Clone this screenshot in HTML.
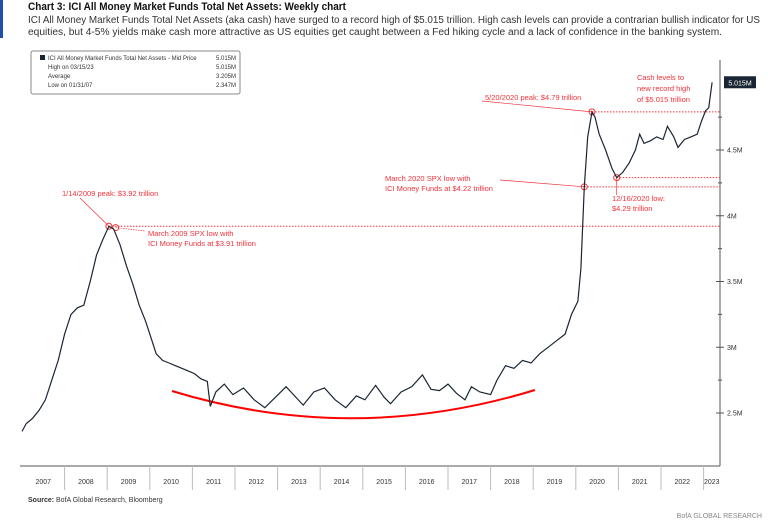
<!DOCTYPE html>
<html><head><meta charset="utf-8"><style>
body{margin:0;background:#fff;width:768px;height:528px;overflow:hidden;font-family:"Liberation Sans",sans-serif}
svg{position:absolute;left:0;top:0}
</style></head><body>
<svg width="768" height="528">
<rect x="0" y="0" width="3" height="38" fill="#1f4fa8"/>
<text x="28" y="10" font-size="11" font-weight="bold" fill="#111" textLength="318" lengthAdjust="spacingAndGlyphs">Chart 3: ICI All Money Market Funds Total Net Assets: Weekly chart</text>
<text x="28" y="23" font-size="10" fill="#333" textLength="732" lengthAdjust="spacingAndGlyphs">ICI All Money Market Funds Total Net Assets (aka cash) have surged to a record high of $5.015 trillion. High cash levels can provide a contrarian bullish indicator for US</text>
<text x="28" y="35" font-size="10" fill="#333" textLength="694" lengthAdjust="spacingAndGlyphs">equities, but 4-5% yields make cash more attractive as US equities get caught between a Fed hiking cycle and a lack of confidence in the banking system.</text>
<g font-size="6" fill="#333">
<rect x="31" y="51" width="209" height="43" fill="#fff" stroke="#888" rx="2"/>
<rect x="40" y="55" width="5" height="5" fill="#1a2533"/>
<text x="48" y="60">ICI All Money Market Funds Total Net Assets - Mid Price</text><text x="236" y="60" text-anchor="end">5.015M</text>
<text x="48" y="69">High on 03/15/23</text><text x="236" y="69" text-anchor="end">5.015M</text>
<text x="48" y="78">Average</text><text x="236" y="78" text-anchor="end">3.205M</text>
<text x="48" y="87">Low on 01/31/07</text><text x="236" y="87" text-anchor="end">2.347M</text>
</g>
<g id="axes"></g>
<g id="annot"></g>
<path id="series" fill="none" stroke="#1a2533" stroke-width="1.2"/>
<text x="28" y="502" font-size="7" fill="#333"><tspan font-weight="bold">Source:</tspan> BofA Global Research, Bloomberg</text>
<text x="762" y="518" font-size="7" fill="#888" text-anchor="end">BofA GLOBAL RESEARCH</text>
</svg>
<script>
const years=["2007","2008","2009","2010","2011","2012","2013","2014","2015","2016","2017","2018","2019","2020","2021","2022","2023"];
const yTicks=[2.5,3,3.5,4,4.5];
const yTickLabels=["2.5M","3M","3.5M","4M","4.5M"];
const dates=[2007.0,2007.1,2007.25,2007.4,2007.55,2007.7,2007.85,2008.0,2008.15,2008.3,2008.45,2008.6,2008.75,2008.9,2009.04,2009.15,2009.3,2009.45,2009.6,2009.75,2009.9,2010.0,2010.15,2010.3,2010.45,2010.6,2010.75,2010.9,2011.05,2011.2,2011.35,2011.42,2011.55,2011.75,2011.95,2012.2,2012.45,2012.7,2012.95,2013.2,2013.4,2013.6,2013.85,2014.1,2014.35,2014.6,2014.85,2015.05,2015.3,2015.5,2015.65,2015.9,2016.15,2016.4,2016.6,2016.8,2017.0,2017.2,2017.4,2017.55,2017.75,2018.0,2018.15,2018.35,2018.55,2018.75,2018.95,2019.15,2019.35,2019.55,2019.75,2019.9,2020.05,2020.12,2020.2,2020.28,2020.38,2020.45,2020.55,2020.7,2020.85,2020.96,2021.1,2021.25,2021.4,2021.5,2021.6,2021.75,2021.9,2022.05,2022.15,2022.3,2022.4,2022.55,2022.7,2022.85,2022.95,2023.05,2023.12,2023.2];
const values=[2.36,2.42,2.46,2.52,2.6,2.75,2.9,3.1,3.25,3.3,3.32,3.5,3.7,3.82,3.92,3.9,3.78,3.62,3.48,3.32,3.2,3.1,2.95,2.9,2.88,2.86,2.84,2.82,2.8,2.76,2.74,2.55,2.66,2.72,2.64,2.69,2.6,2.54,2.62,2.7,2.63,2.56,2.66,2.69,2.6,2.54,2.63,2.6,2.71,2.62,2.57,2.66,2.7,2.79,2.68,2.67,2.72,2.65,2.6,2.7,2.66,2.64,2.75,2.86,2.84,2.9,2.88,2.95,3.0,3.05,3.1,3.25,3.35,3.6,4.22,4.6,4.79,4.75,4.62,4.5,4.36,4.29,4.33,4.4,4.5,4.62,4.55,4.57,4.6,4.58,4.68,4.6,4.52,4.58,4.6,4.62,4.72,4.8,4.82,5.015];
const x=d=>22+(d-2007)*42.6, y=v=>413-(v-2.5)*131.5;
const ns="http://www.w3.org/2000/svg";
function mk(p,t,a){const e=document.createElementNS(ns,t);for(const k in a)e.setAttribute(k,a[k]);p.appendChild(e);return e;}
const ax=document.getElementById('axes');
let l=mk(ax,'line',{x1:20,y1:466,x2:720,y2:466,stroke:'#555'});


l=mk(ax,'line',{x1:720,y1:60,x2:720,y2:466,stroke:'#555'});


years.forEach((yr,i)=>{const x0=x(2007+i);
 if(i>0){mk(ax,'line',{x1:x0,y1:466,x2:x0,y2:490,stroke:'#bbb'});}
 const cx=i==16?(x0+720)/2:x0+21.3;
 const t=mk(ax,'text',{x:cx,y:484,'font-size':7,fill:'#333','text-anchor':'middle'});t.textContent=yr;
 
 
});
yTicks.forEach((v,i)=>{mk(ax,'line',{x1:716,y1:y(v),x2:724,y2:y(v),stroke:'#555'});
 const t=mk(ax,'text',{x:727,y:y(v)+2.5,'font-size':7,fill:'#333'});t.textContent=yTickLabels[i];
 
 });
[2.75,3.25,3.75,4.25,4.75].forEach(v=>mk(ax,'line',{x1:718,y1:y(v),x2:722,y2:y(v),stroke:'#555'}));
const last=values[values.length-1];
const lb=mk(ax,'rect',{x:724,y:y(last)-6,width:32,height:12,fill:'#1a2533'});


const lt=mk(ax,'text',{x:740,y:y(last)+3,'font-size':7,fill:'#fff','text-anchor':'middle'});lt.textContent=last.toFixed(3)+'M';
let d='';dates.forEach((dt,i)=>{d+=(i?'L':'M')+x(dt).toFixed(1)+' '+y(values[i]).toFixed(1);});
document.getElementById('series').setAttribute('d',d);
const an=document.getElementById('annot');const R='#f0333a';
function hl(v,x1){mk(an,'line',{x1:x1,y1:y(v),x2:720,y2:y(v),stroke:R,'stroke-dasharray':'1.5 1.5','stroke-width':1});}
hl(4.79,x(2020.38));hl(4.29,x(2020.96));hl(4.22,x(2020.2));hl(3.92,x(2009.04));
[[2009.04,3.92],[2009.2,3.91],[2020.38,4.79],[2020.2,4.22],[2020.96,4.29]].forEach(p=>mk(an,'circle',{cx:x(p[0]),cy:y(p[1]),r:3,fill:'none',stroke:R}));
mk(an,'line',{x1:80,y1:198,x2:x(2009.04),y2:y(3.92),stroke:R,'stroke-width':0.7});
mk(an,'line',{x1:x(2009.2),y1:y(3.91),x2:145,y2:231,stroke:R,'stroke-width':0.7,'stroke-dasharray':'1.5 1'});
mk(an,'line',{x1:482,y1:101,x2:x(2020.38),y2:y(4.79),stroke:R,'stroke-width':0.7});
mk(an,'line',{x1:500,y1:180,x2:x(2020.2),y2:y(4.22),stroke:R,'stroke-width':0.7});
mk(an,'line',{x1:x(2020.96),y1:y(4.29),x2:x(2020.96),y2:195,stroke:R,'stroke-width':0.7});
function tx(s,xx,yy,nm){const t=mk(an,'text',{x:xx,y:yy,'font-size':7.5,fill:R});t.textContent=s;
 
 }
tx('1/14/2009 peak: $3.92 trillion',62,196,'annotation-2009-peak');
tx('March 2009 SPX low with',148,236,'annotation-2009-low');tx('ICI Money Funds at $3.91 trillion',148,246,'annotation-2009-low-2');
tx('5/20/2020 peak: $4.79 trillion',485,100,'annotation-2020-peak');
tx('March 2020 SPX low with',385,181,'annotation-2020-low');tx('ICI Money Funds at $4.22 trillion',385,191,'annotation-2020-low-2');
tx('12/16/2020 low:',612,201,'annotation-2020-dec-low');tx('$4.29 trillion',612,211,'annotation-2020-dec-low-2');
tx('Cash levels to',637,80,'annotation-record');tx('new record high',637,91,'annotation-record-2');tx('of $5.015 trillion',637,102,'annotation-record-3');
const arc=mk(an,'path',{d:'M172 391 Q352 446 535 390',fill:'none',stroke:'#f00','stroke-width':2});


</script>
</body></html>
